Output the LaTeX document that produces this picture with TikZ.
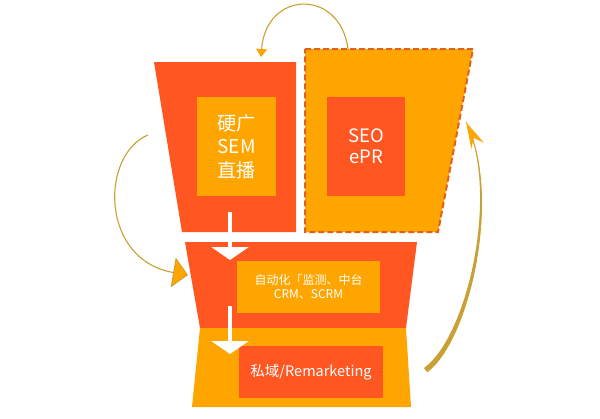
\documentclass[tikz,border=0pt]{standalone}
\usepackage{fontspec}
\newfontfamily\cjk{Noto Sans CJK SC}
\usetikzlibrary{arrows.meta}
\usetikzlibrary{positioning}
\usetikzlibrary{decorations.markings}
\definecolor{funnelred}{RGB}{255,86,34}
\definecolor{funnelorange}{RGB}{255,165,0}
\definecolor{dashred}{RGB}{224,96,30}
\definecolor{curvegold}{RGB}{201,160,52}

\begin{document}
\begin{tikzpicture}[
    x=1pt, y=-1pt,
    inbox/.style={inner sep=0pt, align=center, text=white},
    loop/.style={curvegold, line width=1.1pt},
    down/.style={white, line width=3.5pt, -{Triangle[length=13pt, width=37pt]}}]

    \useasboundingbox (0,0) rectangle (600,418);

    % upper left part
    \fill[funnelred] (154,62) -- (296,62) -- (296,232) -- (182,232) -- cycle;
    \node[inbox, fill=funnelorange, minimum width=79pt, minimum height=99pt,
        font=\cjk\fontsize{19}{23.5}\selectfont] (hard) at (236.5,146.5) {硬广\\SEM\\直播};

    % upper right part
    \filldraw[fill=funnelorange, draw=dashred, line width=2pt, dash pattern=on 6pt off 3pt]
        (305,49) -- (473,49) -- (438,232) -- (305,232) -- cycle;
    \node[inbox, fill=funnelred, minimum width=78pt, minimum height=99pt,
        font=\cjk\fontsize{18.5}{21}\selectfont] (seo) at (366,146.5) {SEO\\ePR};

    % middle part
    \fill[funnelred] (185,242) -- (417,242) -- (406,328) -- (200,328) -- cycle;
    \node[inbox, fill=funnelorange, minimum width=143pt, minimum height=52pt,
        font=\cjk\fontsize{12}{14}\selectfont] (auto) at (308.5,287) {自动化「监测、中台\\CRM、SCRM};

    % bottom part
    \fill[funnelorange] (200,328) -- (406,328) -- (411,407) -- (192,407) -- cycle;
    \node[inbox, fill=funnelred, minimum width=144pt, minimum height=52pt,
        font=\cjk\fontsize{14.5}{17}\selectfont] (priv) at (311,372) {私域/Remarketing};

    % white arrows
    \coordinate (hardout) at (230,212);
    \coordinate (autoin) at (230,260);
    \coordinate (autoout) at (230,306);
    \coordinate (privin) at (230,354);
    \draw[down] (hardout) -- (autoin);
    \draw[down] (autoout) -- (privin);

    % curved arrows
    \coordinate (seotop) at (348,49);
    \coordinate (hardtop) at (261,57);
    \draw[loop, -{Triangle[length=8pt, width=11pt, color=funnelorange!90!curvegold]}]
        (seotop) .. controls (340,-12) and (266,-10) .. (hardtop);

    \coordinate (hardleft) at (148,135);
    \coordinate (autoleft) at (188,275);
    \draw[loop, -{Triangle[length=15pt, width=30pt, fill=funnelorange, line width=0.8pt]}]
        (hardleft) .. controls (100,155) and (100,260) .. (autoleft);

    \coordinate (privright) at (427,372);
    \coordinate (seoright) at (466,122);
    \fill[curvegold] (427,372) .. controls (470,340) and (502,195) .. (466,122)
        .. controls (500,195) and (467,337) .. (424,368) -- cycle;
    \draw[loop, line width=0.8pt, postaction={decorate}, decoration={markings,
        mark=at position 0.998 with {\arrow{Stealth[length=26pt, width=14pt, inset=9pt, color=funnelorange]}}}]
        (privright) .. controls (470,340) and (502,195) .. (seoright);

\end{tikzpicture}
\end{document}
